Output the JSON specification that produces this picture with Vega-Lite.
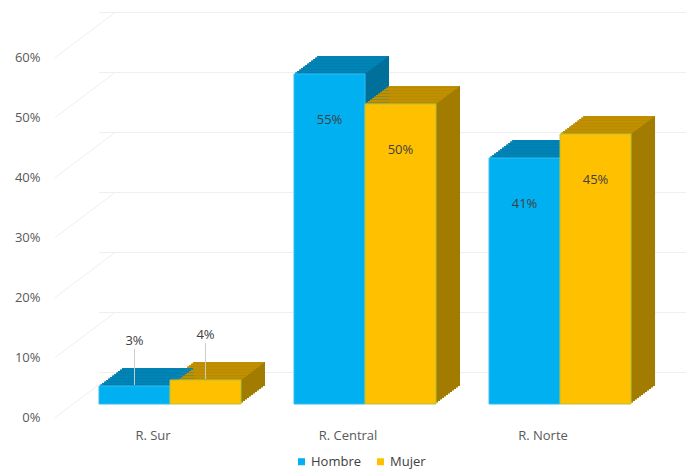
{
  "$schema": "https://vega.github.io/schema/vega-lite/v6.json",
  "width": 587,
  "height": 360,
  "autosize": "none",
  "padding": {"left": 99, "top": 44, "right": 0, "bottom": 68},
  "background": "white",
  "config": {
    "view": {"stroke": null},
    "font": "Open Sans",
    "axisY": {"domain": false, "ticks": false, "grid": false, "labelFont": "Open Sans", "labelFontSize": 13, "labelColor": "#595959", "labelPadding": 59, "labelOffset": 13.5, "title": null},
    "axisX": {"domain": false, "ticks": false, "grid": false, "labelFont": "Open Sans", "labelFontSize": 13, "labelColor": "#595959", "labelPadding": 25, "labelOffset": -17, "title": null, "labelAngle": 0}
  },
  "resolve": {"scale": {"xOffset": "independent"}},
  "datasets": {
    "bars": [
      {"r": "R. Sur", "g": "Hombre", "v": 0.03},
      {"r": "R. Sur", "g": "Mujer", "v": 0.04},
      {"r": "R. Central", "g": "Hombre", "v": 0.55},
      {"r": "R. Central", "g": "Mujer", "v": 0.50},
      {"r": "R. Norte", "g": "Hombre", "v": 0.41},
      {"r": "R. Norte", "g": "Mujer", "v": 0.45}
    ],
    "grid": [{"v": 0}, {"v": 0.1}, {"v": 0.2}, {"v": 0.3}, {"v": 0.4}, {"v": 0.5}, {"v": 0.6}]
  },
  "data": {"name": "bars"},
  "layer": [
    {
      "data": {"name": "grid"},
      "mark": {"type": "rule", "color": "#efefef", "strokeWidth": 1, "xOffset": 16, "yOffset": -31.5},
      "encoding": {"y": {"field": "v", "type": "quantitative", "scale": {"domain": [0, 0.6], "nice": false}, "title": null, "axis": {"values": [0, 0.1, 0.2, 0.3, 0.4, 0.5, 0.6], "format": ".0%"}}}
    },
    {
      "data": {"name": "grid"},
      "mark": {"type": "rule", "color": "#efefef", "strokeWidth": 1, "xOffset": -44, "x2Offset": 16, "yOffset": 13.5, "y2Offset": -31.5},
      "encoding": {
        "x": {"datum": "R. Sur", "type": "nominal", "bandPosition": 0, "scale": {"domain": ["R. Sur", "R. Central", "R. Norte"], "paddingInner": 0.272, "paddingOuter": 0.141, "align": 0}},
        "x2": {"datum": "R. Sur", "bandPosition": 0},
        "y": {"field": "v", "type": "quantitative", "title": null},
        "y2": {"field": "v"}
      }
    },
    {
      "encoding": {
        "x": {"field": "r", "type": "nominal", "sort": ["R. Sur", "R. Central", "R. Norte"], "title": null},
        "y": {"field": "v", "type": "quantitative", "title": null},
        "color": {"condition": {"test": "datum.g === 'Hombre'", "value": "#006f9a"}, "value": "#a27c00"}
      },
      "resolve": {"scale": {"xOffset": "independent"}},
      "layer": [
        {"mark": {"type": "bar", "yOffset": -1.5, "y2Offset": -1.5}, "encoding": {"xOffset": {"field": "g", "type": "nominal", "scale": {"type": "band", "domain": ["Hombre", "Mujer"], "range": [2, 144], "paddingInner": 0, "paddingOuter": 0}}}},
        {"mark": {"type": "bar", "yOffset": -3, "y2Offset": -3}, "encoding": {"xOffset": {"field": "g", "type": "nominal", "scale": {"type": "band", "domain": ["Hombre", "Mujer"], "range": [4, 146], "paddingInner": 0, "paddingOuter": 0}}}},
        {"mark": {"type": "bar", "yOffset": -4.5, "y2Offset": -4.5}, "encoding": {"xOffset": {"field": "g", "type": "nominal", "scale": {"type": "band", "domain": ["Hombre", "Mujer"], "range": [6, 148], "paddingInner": 0, "paddingOuter": 0}}}},
        {"mark": {"type": "bar", "yOffset": -6, "y2Offset": -6}, "encoding": {"xOffset": {"field": "g", "type": "nominal", "scale": {"type": "band", "domain": ["Hombre", "Mujer"], "range": [8, 150], "paddingInner": 0, "paddingOuter": 0}}}},
        {"mark": {"type": "bar", "yOffset": -7.5, "y2Offset": -7.5}, "encoding": {"xOffset": {"field": "g", "type": "nominal", "scale": {"type": "band", "domain": ["Hombre", "Mujer"], "range": [10, 152], "paddingInner": 0, "paddingOuter": 0}}}},
        {"mark": {"type": "bar", "yOffset": -9, "y2Offset": -9}, "encoding": {"xOffset": {"field": "g", "type": "nominal", "scale": {"type": "band", "domain": ["Hombre", "Mujer"], "range": [12, 154], "paddingInner": 0, "paddingOuter": 0}}}},
        {"mark": {"type": "bar", "yOffset": -10.5, "y2Offset": -10.5}, "encoding": {"xOffset": {"field": "g", "type": "nominal", "scale": {"type": "band", "domain": ["Hombre", "Mujer"], "range": [14, 156], "paddingInner": 0, "paddingOuter": 0}}}},
        {"mark": {"type": "bar", "yOffset": -12, "y2Offset": -12}, "encoding": {"xOffset": {"field": "g", "type": "nominal", "scale": {"type": "band", "domain": ["Hombre", "Mujer"], "range": [16, 158], "paddingInner": 0, "paddingOuter": 0}}}},
        {"mark": {"type": "bar", "yOffset": -13.5, "y2Offset": -13.5}, "encoding": {"xOffset": {"field": "g", "type": "nominal", "scale": {"type": "band", "domain": ["Hombre", "Mujer"], "range": [18, 160], "paddingInner": 0, "paddingOuter": 0}}}},
        {"mark": {"type": "bar", "yOffset": -15, "y2Offset": -15}, "encoding": {"xOffset": {"field": "g", "type": "nominal", "scale": {"type": "band", "domain": ["Hombre", "Mujer"], "range": [20, 162], "paddingInner": 0, "paddingOuter": 0}}}},
        {"mark": {"type": "bar", "yOffset": -16.5, "y2Offset": -16.5}, "encoding": {"xOffset": {"field": "g", "type": "nominal", "scale": {"type": "band", "domain": ["Hombre", "Mujer"], "range": [22, 164], "paddingInner": 0, "paddingOuter": 0}}}},
        {"mark": {"type": "bar", "yOffset": -18, "y2Offset": -18}, "encoding": {"xOffset": {"field": "g", "type": "nominal", "scale": {"type": "band", "domain": ["Hombre", "Mujer"], "range": [24, 166], "paddingInner": 0, "paddingOuter": 0}}}}
      ]
    },
    {
      "encoding": {
        "x": {"field": "r", "type": "nominal", "sort": ["R. Sur", "R. Central", "R. Norte"], "title": null},
        "y": {"field": "v", "type": "quantitative", "title": null},
        "y2": {"field": "v"},
        "color": {"condition": {"test": "datum.g === 'Hombre'", "value": "#0083b5"}, "value": "#c09000"}
      },
      "resolve": {"scale": {"xOffset": "independent"}},
      "layer": [
        {"mark": {"type": "bar", "yOffset": -1.5, "y2Offset": 0}, "encoding": {"xOffset": {"field": "g", "type": "nominal", "scale": {"type": "band", "domain": ["Hombre", "Mujer"], "range": [1, 143], "paddingInner": 0, "paddingOuter": 0}}}},
        {"mark": {"type": "bar", "yOffset": -3, "y2Offset": -1.5}, "encoding": {"xOffset": {"field": "g", "type": "nominal", "scale": {"type": "band", "domain": ["Hombre", "Mujer"], "range": [3, 145], "paddingInner": 0, "paddingOuter": 0}}}},
        {"mark": {"type": "bar", "yOffset": -4.5, "y2Offset": -3}, "encoding": {"xOffset": {"field": "g", "type": "nominal", "scale": {"type": "band", "domain": ["Hombre", "Mujer"], "range": [5, 147], "paddingInner": 0, "paddingOuter": 0}}}},
        {"mark": {"type": "bar", "yOffset": -6, "y2Offset": -4.5}, "encoding": {"xOffset": {"field": "g", "type": "nominal", "scale": {"type": "band", "domain": ["Hombre", "Mujer"], "range": [7, 149], "paddingInner": 0, "paddingOuter": 0}}}},
        {"mark": {"type": "bar", "yOffset": -7.5, "y2Offset": -6}, "encoding": {"xOffset": {"field": "g", "type": "nominal", "scale": {"type": "band", "domain": ["Hombre", "Mujer"], "range": [9, 151], "paddingInner": 0, "paddingOuter": 0}}}},
        {"mark": {"type": "bar", "yOffset": -9, "y2Offset": -7.5}, "encoding": {"xOffset": {"field": "g", "type": "nominal", "scale": {"type": "band", "domain": ["Hombre", "Mujer"], "range": [11, 153], "paddingInner": 0, "paddingOuter": 0}}}},
        {"mark": {"type": "bar", "yOffset": -10.5, "y2Offset": -9}, "encoding": {"xOffset": {"field": "g", "type": "nominal", "scale": {"type": "band", "domain": ["Hombre", "Mujer"], "range": [13, 155], "paddingInner": 0, "paddingOuter": 0}}}},
        {"mark": {"type": "bar", "yOffset": -12, "y2Offset": -10.5}, "encoding": {"xOffset": {"field": "g", "type": "nominal", "scale": {"type": "band", "domain": ["Hombre", "Mujer"], "range": [15, 157], "paddingInner": 0, "paddingOuter": 0}}}},
        {"mark": {"type": "bar", "yOffset": -13.5, "y2Offset": -12}, "encoding": {"xOffset": {"field": "g", "type": "nominal", "scale": {"type": "band", "domain": ["Hombre", "Mujer"], "range": [17, 159], "paddingInner": 0, "paddingOuter": 0}}}},
        {"mark": {"type": "bar", "yOffset": -15, "y2Offset": -13.5}, "encoding": {"xOffset": {"field": "g", "type": "nominal", "scale": {"type": "band", "domain": ["Hombre", "Mujer"], "range": [19, 161], "paddingInner": 0, "paddingOuter": 0}}}},
        {"mark": {"type": "bar", "yOffset": -16.5, "y2Offset": -15}, "encoding": {"xOffset": {"field": "g", "type": "nominal", "scale": {"type": "band", "domain": ["Hombre", "Mujer"], "range": [21, 163], "paddingInner": 0, "paddingOuter": 0}}}},
        {"mark": {"type": "bar", "yOffset": -18, "y2Offset": -16.5}, "encoding": {"xOffset": {"field": "g", "type": "nominal", "scale": {"type": "band", "domain": ["Hombre", "Mujer"], "range": [23, 165], "paddingInner": 0, "paddingOuter": 0}}}}
      ]
    },
    {"mark": {"type": "bar", "strokeWidth": 1},
     "encoding": {
       "x": {"field": "r", "type": "nominal", "sort": ["R. Sur", "R. Central", "R. Norte"]},
       "xOffset": {"field": "g", "type": "nominal", "scale": {"type": "band", "domain": ["Hombre", "Mujer"], "paddingInner": 0, "paddingOuter": 0}},
       "y": {"field": "v", "type": "quantitative"},
       "color": {"field": "g", "type": "nominal", "scale": {"domain": ["Hombre", "Mujer"], "range": ["#00b0f0", "#ffc000"]},
         "legend": {"orient": "none", "legendX": 196, "legendY": 411, "direction": "horizontal", "title": null, "symbolType": "square", "symbolSize": 49, "symbolStrokeWidth": 0, "labelFont": "Open Sans", "labelFontSize": 13, "labelColor": "#404040", "columnPadding": 12, "labelOffset": 3, "padding": 0}},
       "stroke": {"condition": {"test": "datum.g === 'Hombre'", "value": "#33bdf0"}, "value": "#b3c43c"}
     }},
    {"transform": [{"filter": "datum.v < 0.1"}],
     "mark": {"type": "rule", "color": "#cccccc", "strokeWidth": 1, "yOffset": -1, "y2Offset": -37},
     "encoding": {"x": {"field": "r", "type": "nominal", "sort": ["R. Sur", "R. Central", "R. Norte"]}, "xOffset": {"field": "g", "type": "nominal", "scale": {"type": "band", "domain": ["Hombre", "Mujer"], "paddingInner": 0, "paddingOuter": 0}}, "y": {"field": "v", "type": "quantitative"}, "y2": {"field": "v"}}},
    {"transform": [{"filter": "datum.v < 0.1"}],
     "mark": {"type": "text", "font": "Open Sans", "fontSize": 13, "color": "#404040", "dy": -45},
     "encoding": {"x": {"field": "r", "type": "nominal", "sort": ["R. Sur", "R. Central", "R. Norte"]}, "xOffset": {"field": "g", "type": "nominal", "scale": {"type": "band", "domain": ["Hombre", "Mujer"], "paddingInner": 0, "paddingOuter": 0}}, "y": {"field": "v", "type": "quantitative"}, "text": {"field": "v", "format": ".0%"}}},
    {"transform": [{"filter": "datum.v >= 0.1"}],
     "mark": {"type": "text", "font": "Open Sans", "fontSize": 13, "color": "#404040", "dy": 46},
     "encoding": {"x": {"field": "r", "type": "nominal", "sort": ["R. Sur", "R. Central", "R. Norte"]}, "xOffset": {"field": "g", "type": "nominal", "scale": {"type": "band", "domain": ["Hombre", "Mujer"], "paddingInner": 0, "paddingOuter": 0}}, "y": {"field": "v", "type": "quantitative"}, "text": {"field": "v", "format": ".0%"}}}
  ]
}
